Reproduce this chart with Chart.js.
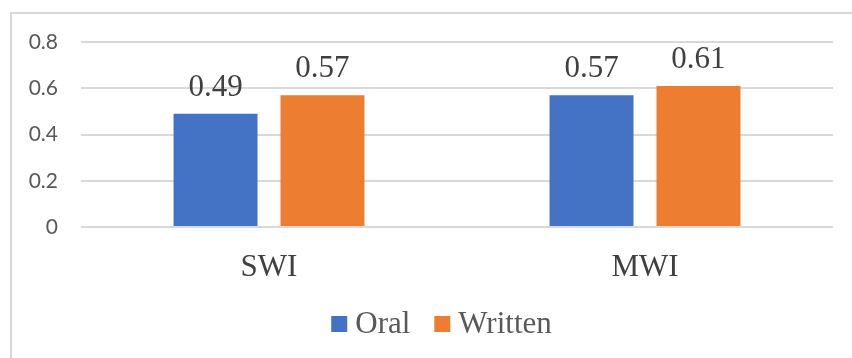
<!DOCTYPE html>
<html>
<head>
<meta charset="utf-8">
<script src="https://cdn.jsdelivr.net/npm/chart.js@4/dist/chart.umd.min.js"></script>
<style>
  html, body { margin: 0; padding: 0; background: #ffffff; }
  #wrap { position: relative; width: 852px; height: 358px; overflow: hidden; }
  #frame { position: absolute; left: 10px; top: 12px; width: 900px; height: 400px;
           border-left: 2px solid #d9d9d9; border-top: 2px solid #d9d9d9; box-sizing: border-box; }
  canvas { position: absolute; left: 0; top: 0; }
</style>
</head>
<body>
<div id="wrap">
  <div id="frame"></div>
  <canvas id="chart" width="852" height="358"></canvas>
</div>
<script>
const categories = ['SWI', 'MWI'];
const oralValues = [0.49, 0.57];
const writtenValues = [0.57, 0.61];
const yTicks = [0, 0.2, 0.4, 0.6, 0.8];

const SERIF = '"Liberation Serif", "Times New Roman", serif';

// Value labels above each bar, positioned from the bar elements
const valueLabels = {
  id: 'valueLabels',
  afterDatasetsDraw(chart) {
    const ctx = chart.ctx;
    ctx.save();
    ctx.font = '31px ' + SERIF;
    ctx.fillStyle = '#404040';
    ctx.textAlign = 'center';
    ctx.textBaseline = 'alphabetic';
    chart.data.datasets.forEach((ds, i) => {
      chart.getDatasetMeta(i).data.forEach((bar, j) => {
        ctx.fillText(ds.data[j].toFixed(2), bar.x, bar.y - 18);
      });
    });
    ctx.restore();
  }
};

// Legend row below the axis, centred under the plot
const bottomLegend = {
  id: 'bottomLegend',
  afterDraw(chart) {
    const ctx = chart.ctx;
    ctx.save();
    ctx.font = '31px ' + SERIF;
    ctx.textBaseline = 'alphabetic';
    const box = 16, gapText = 8, gapItem = 24;
    const items = chart.data.datasets.map(ds => ({
      label: ds.label, color: ds.backgroundColor, w: box + gapText + ctx.measureText(ds.label).width
    }));
    const total = items.reduce((s, it) => s + it.w, 0) + gapItem * (items.length - 1);
    let x = 441.5 - total / 2;
    const baseline = 333;
    items.forEach(it => {
      ctx.fillStyle = it.color;
      ctx.fillRect(x, 316, box, box);
      ctx.fillStyle = '#595959';
      ctx.fillText(it.label, x + box + gapText, baseline);
      x += it.w + gapItem;
    });
    ctx.restore();
  }
};

new Chart(document.getElementById('chart'), {
  type: 'bar',
  data: {
    labels: categories,
    datasets: [
      { label: 'Oral', data: oralValues, backgroundColor: '#4472C4', borderWidth: 0 },
      { label: 'Written', data: writtenValues, backgroundColor: '#ED7D31', borderWidth: 0 }
    ]
  },
  options: {
    responsive: false,
    animation: false,
    devicePixelRatio: 1,
    layout: { padding: { left: 0, right: 19, top: 42, bottom: 0 } },
    datasets: { bar: { categoryPercentage: 0.569, barPercentage: 0.785 } },
    plugins: { legend: { display: false }, tooltip: { enabled: false } },
    scales: {
      x: {
        grid: { display: false },
        border: { display: false },
        ticks: { color: '#404040', font: { family: SERIF, size: 31 }, padding: 14 },
        afterFit(scale) { scale.height = 131; }
      },
      y: {
        min: 0, max: 0.8,
        afterBuildTicks(scale) { scale.ticks = yTicks.map(v => ({ value: v })); },
        grid: { color: '#d9d9d9', lineWidth: 2, drawTicks: false },
        border: { display: false },
        ticks: {
          color: '#595959', font: { family: 'Lato', size: 21 }, padding: 23,
          callback: v => (v === 0 ? '0' : String(Math.round(v * 10) / 10))
        },
        afterFit(scale) { scale.width = 81; }
      }
    }
  },
  plugins: [valueLabels, bottomLegend]
});
</script>
</body>
</html>
